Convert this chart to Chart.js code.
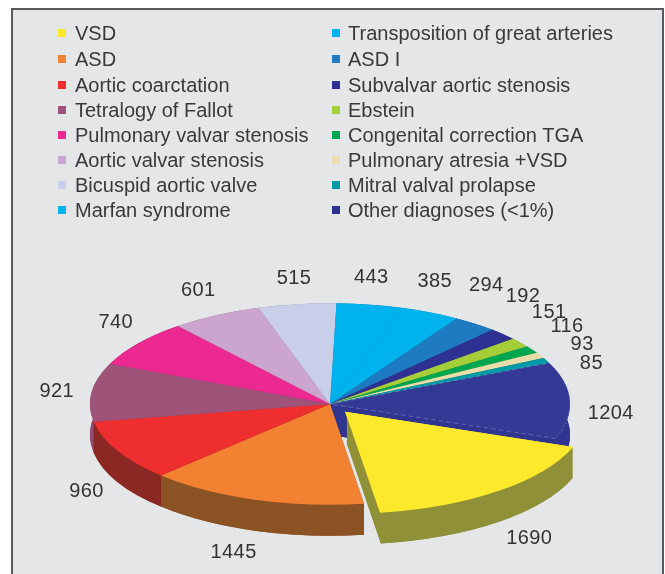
<!DOCTYPE html>
<html><head><meta charset="utf-8">
<script src="https://cdn.jsdelivr.net/npm/chart.js@4"></script>
<style>
html,body{margin:0;padding:0;background:#fff;width:665px;height:574px;overflow:hidden}
#panel{position:absolute;left:11px;top:8px;width:649px;height:570px;background:#e5e6e8;border:2px solid #5a5a5c;box-sizing:content-box}
canvas{position:absolute;left:0;top:0}
.li{position:absolute;font:20px "Liberation Sans",Arial,sans-serif;color:#39393b;line-height:20px;white-space:nowrap}
.sw{position:absolute;width:8px;height:8px}
</style></head><body>
<div id="panel"></div>
<canvas id="c" width="665" height="574"></canvas>
<div id="legend"></div>
<script>
const categories = ["VSD","ASD","Aortic coarctation","Tetralogy of Fallot","Pulmonary valvar stenosis","Aortic valvar stenosis","Bicuspid aortic valve","Marfan syndrome","Transposition of great arteries","ASD I","Subvalvar aortic stenosis","Ebstein","Congenital correction TGA","Pulmonary atresia +VSD","Mitral valval prolapse","Other diagnoses (<1%)"];
const patients = [1690,1445,960,921,740,601,515,443,385,294,192,151,116,93,85,1204];
const topColors = ["#FDE92B","#F28232","#EE2E2F","#A05378","#EC2891","#CBA5CE","#C9CFE8","#00B2EE","#00B3EF","#1F7BC1","#2E3191","#A6CE39","#00A650","#E8DCA8","#009AA6","#333995"];
const wallColors = ["#8F9038","#8B5224","#8C2823","#934C78","#8A2060","#8A6F8C","#8A8EA0","#007AA4","#007AA4","#155583","#1F2266","#728E27","#007238","#A0987A","#006A72","#30358F"];
const legendSwatches = ["#FDE92B","#F28232","#EE2E2F","#A05378","#EC2891","#CBA5CE","#C9CFE8","#00B2EE","#00B3EF","#1F7BC1","#2E3191","#A6CE39","#00A650","#E8DCA8","#009AA6","#2E3191"];
const legendRows = [33,59,85,110,135,160,185,210];
const labelNudge = [[48,56],[-21,53],[-31,41],[-35,-1],[-23,-21],[-18,-25],[-3,-26],[1,-27],[4,-31],[11,-38],[20,-38],[29,-30],[35,-23],[42,-11],[45,3],[41,13]];

const SQUASH = 0.42, CENTER_Y = 404, DEPTH = 31;
const EXPLODED = 0;

const leg = document.getElementById('legend');
categories.forEach((name,i)=>{
  const col = i<8?0:1, row = legendRows[i%8];
  const sw = document.createElement('div'); sw.className='sw';
  sw.style.cssText=`left:${col?332:58}px;top:${row-4}px;background:${legendSwatches[i]}`;
  const t = document.createElement('div'); t.className='li'; t.textContent=name;
  t.style.cssText=`left:${col?348:75}px;top:${row-10}px`;
  leg.append(sw,t);
});

function drawWalls(el,i,ctx){
  const a0=el.startAngle,a1=el.endAngle,r=el.outerRadius,D=DEPTH/SQUASH;
  const half=(a0+a1)/2, off=(el.options.offset||0)/4;
  const shift=off*(2-Math.sin(Math.min(Math.PI,a1-a0)));
  const x=el.x+Math.cos(half)*shift, y=el.y+Math.sin(half)*shift;
  ctx.save();
  ctx.fillStyle=wallColors[i];
  ctx.beginPath(); ctx.moveTo(x,y+D); ctx.arc(x,y+D,r,a0,a1); ctx.closePath(); ctx.fill();
  ctx.beginPath(); ctx.arc(x,y,r,a0,a1); ctx.arc(x,y+D,r,a1,a0,true); ctx.closePath(); ctx.fill();
  [a0,a1].forEach(a=>{
    const px=x+Math.cos(a)*r, py=y+Math.sin(a)*r;
    ctx.beginPath(); ctx.moveTo(x,y); ctx.lineTo(px,py); ctx.lineTo(px,py+D); ctx.lineTo(x,y+D); ctx.closePath(); ctx.fill();
  });
  ctx.restore();
}
function tilt(chart){
  const ctx=chart.ctx, area=chart.chartArea, cy=(area.top+area.bottom)/2;
  ctx.save();
  ctx.translate(0,CENTER_Y); ctx.scale(1,SQUASH); ctx.translate(0,-cy);
}
const pie3d = {
  id:'pie3d',
  beforeDatasetDraw(chart,args){
    tilt(chart);
    const els=chart.getDatasetMeta(args.index).data;
    const order=els.map((e,i)=>i).filter(i=>i!==EXPLODED)
      .sort((a,b)=>Math.sin((els[a].startAngle+els[a].endAngle)/2)-Math.sin((els[b].startAngle+els[b].endAngle)/2));
    order.forEach(i=>drawWalls(els[i],i,chart.ctx));
  },
  afterDatasetDraw(chart,args){
    const els=chart.getDatasetMeta(args.index).data, ctx=chart.ctx;
    drawWalls(els[EXPLODED],EXPLODED,ctx);
    els[EXPLODED].draw(ctx);
    ctx.restore();
  },
  afterDraw(chart){
    const ctx=chart.ctx, els=chart.getDatasetMeta(0).data;
    ctx.save();
    ctx.font='20px "Liberation Sans",Arial,sans-serif';
    ctx.letterSpacing='0.4px';
    ctx.fillStyle='#333335'; ctx.textAlign='center'; ctx.textBaseline='middle';
    els.forEach((el,i)=>{
      const mid=(el.startAngle+el.endAngle)/2;
      const x=el.x+Math.cos(mid)*el.outerRadius+labelNudge[i][0];
      const y=CENTER_Y+Math.sin(mid)*el.outerRadius*SQUASH+labelNudge[i][1];
      ctx.fillText(String(patients[i]),x,y);
    });
    ctx.restore();
  }
};
new Chart(document.getElementById('c'),{
  type:'pie',
  data:{labels:categories,datasets:[{
    data:patients,
    backgroundColor:topColors,
    borderWidth:categories.map((c,i)=>i===15?0.8:0),
    borderColor:categories.map((c,i)=>i===15?'rgba(200,200,235,0.6)':'transparent'),
    borderDash:[5,3],
    offset:categories.map((c,i)=>i===EXPLODED?96:0),
    radius:240,
    clip:false
  }]},
  options:{
    responsive:false,animation:false,rotation:110,
    layout:{padding:{right:5}},
    plugins:{legend:{display:false},tooltip:{enabled:false}}
  },
  plugins:[pie3d]
});
</script></body></html>
